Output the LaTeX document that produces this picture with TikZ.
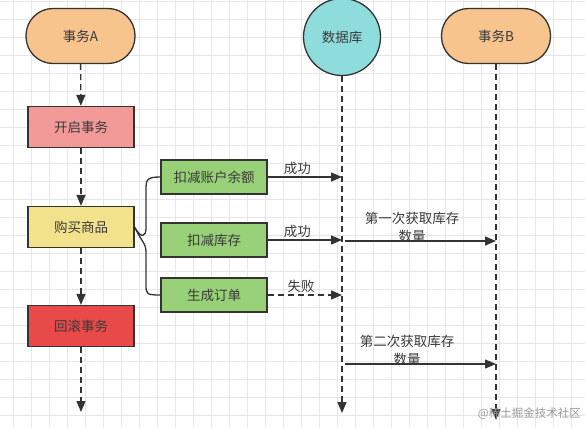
\documentclass[tikz,border=0pt]{standalone}
\usepackage{fontspec}
\setmainfont{Noto Sans CJK SC}
\usetikzlibrary{arrows.meta}
\definecolor{gridc}{HTML}{E6E6E6}
\definecolor{orangec}{HTML}{F7C48E}
\definecolor{pinkc}{HTML}{F29A98}
\definecolor{yellowc}{HTML}{F2E28C}
\definecolor{redc}{HTML}{E84A4A}
\definecolor{greenc}{HTML}{97D077}
\definecolor{cyanc}{HTML}{8EDDDC}
\definecolor{linec}{HTML}{333333}
\definecolor{textc}{HTML}{3A3A3A}
\tikzset{
  base/.style={draw=linec, line width=1.3pt, text=textc, font=\fontsize{13.5}{16}\selectfont, inner sep=0pt},
  pill/.style={base, fill=orangec, rounded corners=27pt, minimum width=109pt, minimum height=55pt},
  stepbox/.style={base, minimum width=106pt, minimum height=41pt},
  greenbox/.style={base, fill=greenc, minimum width=106pt, minimum height=34pt},
  dbnode/.style={base, circle, fill=cyanc, minimum size=77pt},
  flow/.style={draw=linec, line width=1.4pt, -{Triangle[length=11pt,width=9pt]}},
  dflow/.style={flow, dash pattern=on 6pt off 4pt},
  lbl/.style={font=\fontsize{13.5}{16}\selectfont, text=textc, inner sep=1.5pt, align=center},
}
\begin{document}
\begin{tikzpicture}[x=1pt,y=-1pt]
\useasboundingbox (0,0) rectangle (585,428);
\fill[white] (0,0) rectangle (585,428);
% grid
\foreach \i in {0,...,33} {\draw[gridc, line width=0.6pt] (\i*18-5,0) -- (\i*18-5,428);}
\foreach \j in {0,...,24} {\draw[gridc, line width=0.6pt] (0,\j*18+1) -- (585,\j*18+1);}
% nodes
\node[pill] (ta) at (80.5,36) {事务A};
\node[pill] (tb) at (496,36) {事务B};
\node[dbnode] (db) at (342,37) {数据库};
\node[stepbox, fill=pinkc] (open) at (81,127) {开启事务};
\node[stepbox, fill=yellowc] (buy) at (81,227) {购买商品};
\node[stepbox, fill=redc] (rb) at (81,326) {回滚事务};
\node[greenbox] (g1) at (214,177) {扣减账户余额};
\node[greenbox] (g2) at (214,240) {扣减库存};
\node[greenbox] (g3) at (214,295) {生成订单};
% coordinates
\coordinate (aend) at (81,412);
\coordinate (dbend) at (342,413);
\coordinate (tbend) at (496,420);
\coordinate (d1) at (342,177);
\coordinate (d2) at (342,240);
\coordinate (d3) at (342,295);
\coordinate (s1) at (345,241);
\coordinate (b1) at (496,241);
\coordinate (s2) at (345,364);
\coordinate (b2) at (496,364);
% A flow
\draw[dflow] (ta) -- (open);
\draw[dflow] (open) -- (buy);
\draw[dflow] (buy) -- (rb);
\draw[dflow] (rb) -- (aend);
% lifelines
\draw[dflow] (db) -- (dbend);
\draw[dflow] (tb) -- (tbend);
% brace
\draw[linec, line width=1.3pt] (g1.west) .. controls (146,177) and (146,180) .. (146,191) -- (146,228)
  .. controls (146,237) and (141,239) .. (buy.east)
  .. controls (141,241) and (146,243) .. (146,252) -- (146,284)
  .. controls (146,294) and (146,295) .. (g3.west);
% messages
\draw[flow] (g1) -- node[lbl, above, pos=0.4] {成功} (d1);
\draw[flow] (g2) -- node[lbl, above, pos=0.4] {成功} (d2);
\draw[dflow] (g3) -- node[lbl, above, pos=0.45] {失败} (d3);
\draw[flow] (s1) -- (b1);
\node[lbl, font=\fontsize{13.5}{18}\selectfont] (m1) at (412,227) {第一次获取库存\\数量};
\draw[flow] (s2) -- (b2);
\node[lbl, font=\fontsize{13.5}{18}\selectfont] (m2) at (407,350) {第二次获取库存\\数量};
% watermark
\node[text=black!40, font=\fontsize{11.5}{13}\selectfont, anchor=east, inner sep=0pt] (wm) at (581,414) {@稀土掘金技术社区};
\end{tikzpicture}
\end{document}
